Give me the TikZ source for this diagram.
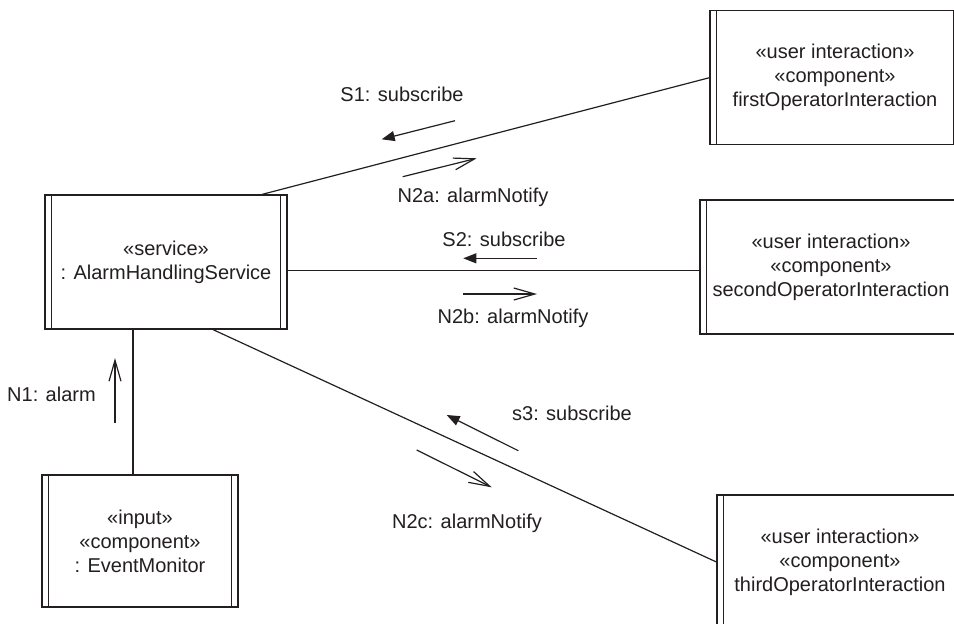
\documentclass[tikz,border=0pt]{standalone}
\usepackage{fontspec}
\setmainfont{Liberation Sans}
\usetikzlibrary{arrows.meta,calc}
\definecolor{ink}{RGB}{35,31,32}
\begin{document}
\begin{tikzpicture}[x=1pt,y=-1pt,
  every node/.style={font=\fontsize{20}{24}\selectfont, text=ink},
  active/.style={draw=ink, line width=1.2pt, rectangle, inner sep=0pt, align=center,
    path picture={\draw[ink,line width=1.2pt]
      ([xshift=6.5pt]path picture bounding box.north west) -- ([xshift=6.5pt]path picture bounding box.south west)
      ([xshift=-6.5pt]path picture bounding box.north east) -- ([xshift=-6.5pt]path picture bounding box.south east);}},
  conn/.style={draw=ink, line width=1.2pt},
  sync/.style={draw=ink, line width=1.2pt, -{Triangle[length=13pt,width=10pt]}},
  async/.style={draw=ink, line width=1.2pt, -{Straight Barb[length=21pt,width=12pt]}},
  lbl/.style={inner sep=0pt}]
\useasboundingbox (0,0) rectangle (954,624);
\clip (0,0) rectangle (954,624);
\fill[white] (0,0) rectangle (954,624);

% objects
\node[active, minimum width=242pt, minimum height=134pt] (svc) at (166,262)
  {«service»\\: AlarmHandlingService};
\node[active, minimum width=196pt, minimum height=132pt] (ev) at (140,541)
  {«input»\\«component»\\: EventMonitor};
\node[active, minimum width=250pt, minimum height=134pt] (op1) at (835,77.7)
  {«user interaction»\\«component»\\firstOperatorInteraction};
\node[active, minimum width=262pt, minimum height=134pt] (op2) at (831,267)
  {«user interaction»\\«component»\\secondOperatorInteraction};
\node[active, minimum width=246pt, minimum height=134pt] (op3) at (840,562)
  {«user interaction»\\«component»\\thirdOperatorInteraction};

% links
\draw[conn] ([xshift=96pt]svc.north) -- (op1.west);
\draw[conn] ([yshift=-8.7pt]svc.east) -- ([yshift=-3.7pt]op2.west);
\draw[conn] ([xshift=47pt]svc.south) -- (op3.west);
\coordinate (a) at ([xshift=-33pt]svc.south);
\draw[conn] (a) -- (a |- ev.north);

% messages
\draw[sync] (455,120.7) -- (381.7,139.3);
\draw[async] (402.7,176.7) -- (476.7,158.3);
\draw[sync] (536.7,258.3) -- (463.3,258.3);
\draw[async] (463,294) -- (537,294);
\draw[sync] (518.3,450.7) -- (446.7,415);
\draw[async] (416.7,450) -- (491.7,487.3);
\draw[async] (115,423) -- (115,358);

% labels
\node[lbl] (s1) at (402,94) {S1: subscribe};
\node[lbl] (n2a) at (473,197) {N2a: alarmNotify};
\node[lbl] (s2) at (504,239) {S2: subscribe};
\node[lbl] (n2b) at (513,318) {N2b: alarmNotify};
\node[lbl] (s3) at (572,413) {s3: subscribe};
\node[lbl] (n2c) at (467,523) {N2c: alarmNotify};
\node[lbl, anchor=west] (n1) at (7,394) {N1: alarm};
\end{tikzpicture}
\end{document}
